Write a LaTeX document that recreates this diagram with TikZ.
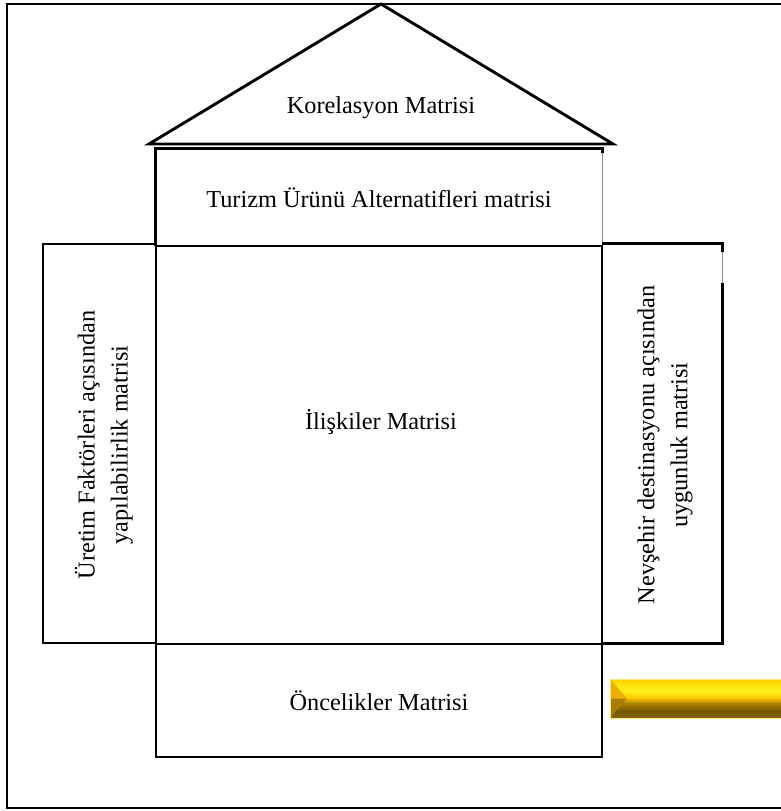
\documentclass[tikz,border=0pt]{standalone}
\usepackage{fontspec}
\setmainfont{Liberation Serif}
\definecolor{barT}{HTML}{FFD000}
\definecolor{barL}{HTML}{FFF21A}
\definecolor{barA}{HTML}{FFC400}
\definecolor{barB}{HTML}{B08600}
\definecolor{barC}{HTML}{735600}
\definecolor{barD}{HTML}{85660A}
\definecolor{bevelU}{HTML}{EEAE00}
\definecolor{bevelL}{HTML}{A87E00}
\begin{document}
\begin{tikzpicture}[x=1bp,y=-1bp,
  every node/.style={font=\fontsize{24.3bp}{29bp}\selectfont},
  frame/.style={draw=black,line width=2.9bp},
  matrixbox/.style={draw=black,line width=2.9bp,inner sep=0pt},
  openbox/.style={inner sep=0pt},
  edge/.style={draw=black,line width=2.9bp,line join=miter},
  faintedge/.style={draw=black!45,line width=1.2bp},
  roof/.style={draw=black,line width=2.9bp,line join=miter},
  sidetext/.style={rotate=90,align=center,
    font=\fontsize{24.3bp}{33bp}\selectfont}]
  \useasboundingbox (0,0) rectangle (781,811);

  % outer frame (its right side runs past the page edge)
  \draw[frame] (800,4) -- (7,4) -- (7,808) -- (800,808);

  % roof
  \coordinate (roofL) at (149,144);
  \coordinate (roofT) at (381,4);
  \coordinate (roofR) at (613,144);
  \draw[roof] (roofL) -- (roofT) -- (roofR) -- cycle;
  \node (korelasyon) at (381,108) {Korelasyon Matrisi};

  % house body
  \node[openbox,minimum width=446bp,minimum height=97bp] (turizm)
    at (379,197.5) {Turizm Ürünü Alternatifleri matrisi};
  \draw[edge] (turizm.south west) -- (turizm.north west)
    -- (turizm.north east) -- ([yshift=-4bp]turizm.north east);
  \draw[faintedge] ([yshift=-4bp]turizm.north east) -- (turizm.south east);

  \node[matrixbox,minimum width=446bp,minimum height=398bp] (iliskiler)
    at (379,445) {};
  \node (iliskilerT) at (381,422) {İlişkiler Matrisi};

  \node[matrixbox,minimum width=113bp,minimum height=399bp] (uretim)
    at (99.5,443.5) {};
  \node[sidetext] (uretimT) at (104,445)
    {Üretim Faktörleri açısından\\yapılabilirlik matrisi};

  \node[openbox,minimum width=120bp,minimum height=399bp] (nevsehir)
    at (662,443.5) {};
  \coordinate (nevsehirMid) at ([yshift=-39bp]nevsehir.north east);
  \draw[edge] (nevsehir.north west) -- (nevsehir.north east)
    -- ([yshift=-8bp]nevsehir.north east);
  \draw[faintedge] ([yshift=-8bp]nevsehir.north east) -- (nevsehirMid);
  \draw[edge] (nevsehirMid) -- (nevsehir.south east)
    -- (nevsehir.south west);
  \node[sidetext] (nevsehirT) at (665,445)
    {Nevşehir destinasyonu açısından\\uygunluk matrisi};

  \node[matrixbox,minimum width=446bp,minimum height=113bp] (oncelik)
    at (379,700.5) {Öncelikler Matrisi};

  % gold bar with bevelled left end, shaded in horizontal bands
  \coordinate (barNW) at (610,679);
  \coordinate (barTip) at (627,698.5);
  \coordinate (barSW) at (610,718);
  \shade[top color=barT,bottom color=barL] (610,679) rectangle (800,691);
  \shade[top color=barL,bottom color=barA] (610,691) rectangle (800,698);
  \shade[top color=barA,bottom color=barB] (610,698) rectangle (800,703);
  \shade[top color=barB,bottom color=barC] (610,703) rectangle (800,711);
  \shade[top color=barC,bottom color=barD] (610,711) rectangle (800,718);
  \fill[bevelU] (barNW) -- (barTip) -- (610,698.5) -- cycle;
  \fill[bevelL] (610,698.5) -- (barTip) -- (barSW) -- cycle;
  \draw[barT!55!white,line width=0.6bp] (barNW) rectangle (800,718);
\end{tikzpicture}
\end{document}
